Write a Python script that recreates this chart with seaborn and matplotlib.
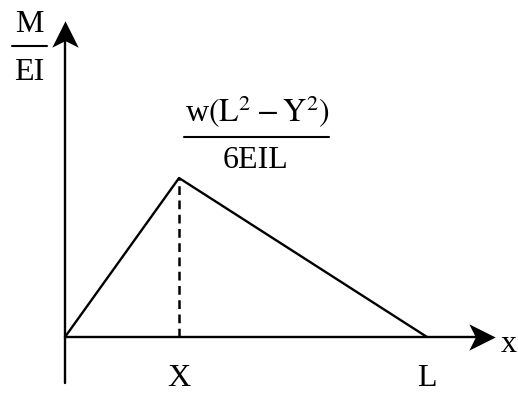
import numpy as np
import pandas as pd
import matplotlib.pyplot as plt
import seaborn as sns
from matplotlib.path import Path

# Data (beam coordinate x, M/EI diagram ordinate), L = 10 units
x_points = [0.0, 3.15, 10.0]
m_over_ei = [0.0, 1.0, 0.0]
point_labels = ["", "X", "L"]

# Layout helpers (pixel -> figure fraction, reference is 518x394)
W, H = 518, 394


def fig_xy(px, py):
    return px / W, 1 - py / H


sns.set_theme(style="white")
plt.rcParams["font.family"] = ["Liberation Serif", "DejaVu Serif"]
plt.rcParams["mathtext.fontset"] = "stix"
plt.rcParams["text.color"] = "black"

fig = plt.figure(figsize=(5.18, 3.94), dpi=100)
ax = fig.add_axes([0, 0, 1, 1])

# data limits chosen so origin sits at pixel (65, 337)
sx, sy = 36.2, 159.0
ax.set_xlim(-65 / sx, (W - 65) / sx)
ax.set_ylim(-(H - 337) / sy, 337 / sy)
ax.axis("off")

df = pd.DataFrame({"x": x_points, "m": m_over_ei})
sns.lineplot(data=df, x="x", y="m", ax=ax, color="black", lw=1.7, sort=False)

# dashed ordinate under the peak
peak = df.loc[df["m"].idxmax()]
ax.plot([peak["x"], peak["x"]], [0, peak["m"]], color="black", lw=1.8,
        ls=(0, (3.5, 2.2)))

# axes lines
x_tip = (495 - 65) / sx
y_tip = (337 - 21) / sy
y_bottom = -(383 - 337) / sy
ax.plot([0, x_tip - 0.3], [0, 0], color="black", lw=1.7)
ax.plot([0, 0], [y_bottom, y_tip - 0.1], color="black", lw=1.7)

# stealth-like arrowheads
head = Path([(1, 0), (-1, 1), (-0.5, 0), (-1, -1), (1, 0)],
            [Path.MOVETO, Path.LINETO, Path.LINETO, Path.LINETO, Path.CLOSEPOLY])
head_up = Path([(0, 1), (1, -1), (0, -0.5), (-1, -1), (0, 1)],
               [Path.MOVETO, Path.LINETO, Path.LINETO, Path.LINETO, Path.CLOSEPOLY])
ax.plot([x_tip - 13 / sx], [0], marker=head, ms=19, color="black", mew=0)
ax.plot([0], [y_tip - 13 / sy], marker=head_up, ms=19, color="black", mew=0)

fs = 23

# tick-like labels under the axis
for xv, lab in zip(x_points, point_labels):
    if lab:
        ax.text(xv, -(379 - 337) / sy, lab, ha="center", va="center", fontsize=fs)
ax.text(*fig_xy(509, 345), "x", transform=fig.transFigure, ha="center",
        va="center", fontsize=fs)

# y-axis label as a fraction
ax.text(*fig_xy(29, 24), "M", transform=fig.transFigure, ha="center",
        va="center", fontsize=fs)
fig.add_artist(plt.Line2D([12 / W, 47 / W], [1 - 46 / H] * 2, color="black", lw=1.5))
ax.text(*fig_xy(29, 72), "EI", transform=fig.transFigure, ha="center",
        va="center", fontsize=fs)

# peak value as a fraction
ax.text(*fig_xy(257, 112), "w$\\left(\\mathrm{L}^2 - \\mathrm{Y}^2\\right)$",
        transform=fig.transFigure, ha="center", va="center", fontsize=fs)
fig.add_artist(plt.Line2D([184 / W, 329 / W], [1 - 137 / H] * 2, color="black", lw=1.5))
ax.text(*fig_xy(256, 160), "6EIL", transform=fig.transFigure, ha="center",
        va="center", fontsize=fs)

fig.savefig("out.png", dpi=100, facecolor="white")
